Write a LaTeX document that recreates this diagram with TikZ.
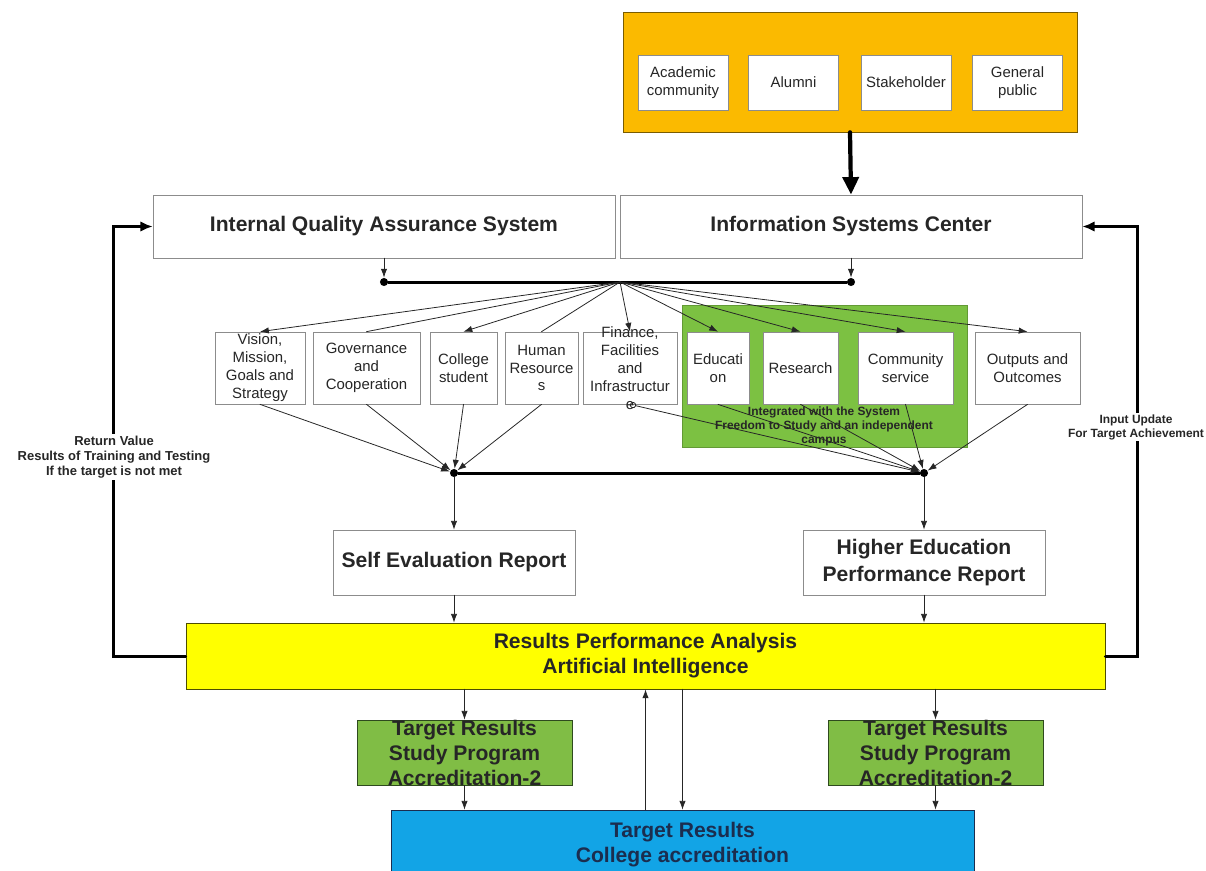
\documentclass[tikz,border=0pt]{standalone}
\usepackage{fontspec}
\setmainfont{Liberation Sans}
\usetikzlibrary{arrows.meta,calc}

\definecolor{boxline}{HTML}{8C8C8C}
\definecolor{inktext}{HTML}{262626}
\definecolor{publicfill}{HTML}{FBBA00}
\definecolor{publicline}{HTML}{7A5C00}
\definecolor{analysisfill}{HTML}{FFFF00}
\definecolor{analysisline}{HTML}{4D4D00}
\definecolor{campusfill}{HTML}{7CC142}
\definecolor{targetfill}{HTML}{80BD45}
\definecolor{targetline}{HTML}{2E4A1E}
\definecolor{collegefill}{HTML}{12A4E6}
\definecolor{collegeline}{HTML}{1B2D4F}

\begin{document}
\begin{tikzpicture}[x=0.02cm, y=-0.02cm, line cap=round,
  box/.style={draw=boxline, fill=white, text=inktext, align=center, inner sep=2pt},
  pubbox/.style={box, font=\fontsize{8.5}{10.2}\selectfont, minimum width=1.8cm, minimum height=1.1cm},
  midbox/.style={box, font=\fontsize{8.5}{10.2}\selectfont, minimum height=1.44cm, inner ysep=0pt},
  headbox/.style={box, font=\bfseries\fontsize{12}{15}\selectfont},
  targetbox/.style={draw=targetline, fill=targetfill, text=inktext, align=center,
    font=\bfseries\fontsize{12}{14.2}\selectfont, minimum width=4.3cm, minimum height=1.3cm, inner ysep=-3pt},
  sidelabel/.style={fill=white, align=center, text=inktext, inner sep=1pt},
  link/.style={draw=black!85, line width=0.45pt},
  arr/.style={-{Latex[length=5pt,width=3.6pt]}},
  bus/.style={line width=1.7pt},
  loopline/.style={line width=1.7pt, -{Latex[length=7pt,width=6pt]}},
  busdot/.style={circle, fill=black, inner sep=0pt, minimum size=4.6pt}]

  % page
  \useasboundingbox (0,0) rectangle (1206,870);
  \fill[white] (0,0) rectangle (1206,870);

  % where the information comes from
  \node[draw=publicline, fill=publicfill, minimum width=9.08cm, minimum height=2.4cm] (public) at (850,72) {};
  \node[pubbox] (acad) at (683,82.5) {Academic\\community};
  \node[pubbox] (alumni) at (793.5,82.5) {Alumni};
  \node[pubbox] (stake) at (906,82.5) {Stakeholder};
  \node[pubbox] (general) at (1017.5,82.5) {General\\public};

  % the two systems
  \node[headbox, minimum width=9.24cm, minimum height=1.26cm] (iqas) at (384,226.5) {Internal Quality Assurance System};
  \node[headbox, minimum width=9.24cm, minimum height=1.26cm] (isc) at (851,226.5) {Information Systems Center};
  \draw[line width=2.4pt, -{Triangle[length=10pt,width=9pt]}] (public.south) -- (isc.north);

  % standards
  \node[draw=campusfill!80!black, fill=campusfill, minimum width=5.7cm, minimum height=2.84cm] (campus) at (824.5,376) {};
  \node[midbox, minimum width=1.8cm] (vision) at (260,368) {Vision,\\Mission,\\Goals and\\Strategy};
  \node[midbox, minimum width=2.14cm] (gov) at (366.5,368) {Governance\\and\\Cooperation};
  \node[midbox, minimum width=1.34cm] (student) at (463.5,368) {College\\student};
  \node[midbox, minimum width=1.46cm] (hr) at (541.5,368) {Human\\Resource\\s};
  \node[midbox, minimum width=1.88cm, inner ysep=-6pt] (finance) at (630,368) {Finance,\\Facilities\\and\\Infrastructur\\e};
  \node[midbox, minimum width=1.24cm] (educ) at (718,368) {Educati\\on};
  \node[midbox, minimum width=1.5cm] (research) at (800.5,368) {Research};
  \node[midbox, minimum width=1.9cm] (commserv) at (905.5,368) {Community\\service};
  \node[midbox, minimum width=2.1cm] (outputs) at (1027.5,368) {Outputs and\\Outcomes};
  \node[font=\bfseries\fontsize{6.8}{8}\selectfont, text=inktext, align=center] (campustext) at (824,426)
    {Integrated with the System\\Freedom to Study and an independent\\campus};

  % reports
  \node[headbox, minimum width=4.84cm, minimum height=1.3cm] (ser) at (454,562.5) {Self Evaluation Report};
  \node[headbox, minimum width=4.84cm, minimum height=1.3cm] (hepr) at (924,562.5) {Higher Education\\Performance Report};

  % top bus and fan out
  \coordinate (topbus) at (0,282);
  \coordinate (hub) at (620,282);
  \node[busdot] (tl) at (iqas.south |- topbus) {};
  \node[busdot] (tr) at (isc.south |- topbus) {};
  \draw[bus] (tl) -- (tr);
  \draw[link, arr] (iqas.south) -- (tl);
  \draw[link, arr] (isc.south) -- (tr);
  \foreach \n in {vision,student,finance,educ,research,commserv,outputs}
    \draw[link, arr] (hub) -- (\n.north);
  \foreach \n in {gov,hr}
    \draw[link] (hub) -- (\n.north);

  % bottom bus
  \coordinate (botbus) at (0,473);
  \node[busdot] (bl) at (ser.north |- botbus) {};
  \node[busdot] (br) at (hepr.north |- botbus) {};
  \draw[bus] (bl) -- (br);
  \foreach \n in {vision,gov,student,hr}
    \draw[link, arr] (\n.south) -- (bl);
  \foreach \n in {educ,research,commserv,outputs}
    \draw[link, arr] (\n.south) -- (br);
  \draw[link, {Circle[open,length=3.5pt]}-{Latex[length=5pt,width=3.6pt]}] (finance.south) -- (br);
  \draw[link, arr] (bl) -- (ser);
  \draw[link, arr] (br) -- (hepr);

  % analysis
  \node[draw=analysisline, fill=analysisfill, text=inktext, align=center, font=\bfseries\fontsize{12}{14.2}\selectfont,
    minimum width=18.38cm, minimum height=1.32cm] (analysis) at (645.5,656) {Results Performance Analysis\\Artificial Intelligence};
  \draw[link, arr] (ser) -- (ser.south |- analysis.north);
  \draw[link, arr] (hepr) -- (hepr.south |- analysis.north);

  % targets
  \node[targetbox] (acc1) at (464.5,752.5) {Target Results\\Study Program\\Accreditation-2};
  \node[targetbox] (acc2) at (935.5,752.5) {Target Results\\Study Program\\Accreditation-2};
  \node[draw=collegeline, fill=collegefill, text=collegeline, align=center, font=\bfseries\fontsize{12}{14.2}\selectfont,
    minimum width=11.66cm, minimum height=1.4cm] (college) at (682.5,845) {Target Results\\College accreditation};
  \draw[link, arr] (analysis.south -| acc1.north) -- (acc1);
  \draw[link, arr] (analysis.south -| acc2.north) -- (acc2);
  \draw[link, arr] (acc1) -- (acc1.south |- college.north);
  \draw[link, arr] (acc2) -- (acc2.south |- college.north);
  \draw[link, arr] (college.north -| analysis.south) -- (analysis.south);
  \draw[link, arr] (analysis.south -| college.north) -- (college.north);

  % feedback loops
  \draw[loopline] (analysis.west) -- ++(-72,0) |- (iqas.west);
  \node[sidelabel, font=\bfseries\fontsize{7.4}{8.6}\selectfont] (retval) at (114,457)
    {Return Value\\Results of Training and Testing\\If the target is not met};
  \draw[loopline] (analysis.east) -- ++(32,0) |- (isc.east);
  \node[sidelabel, font=\bfseries\fontsize{6.8}{8}\selectfont] (inputupd) at (1136,427)
    {Input Update\\For Target Achievement};
\end{tikzpicture}
\end{document}
